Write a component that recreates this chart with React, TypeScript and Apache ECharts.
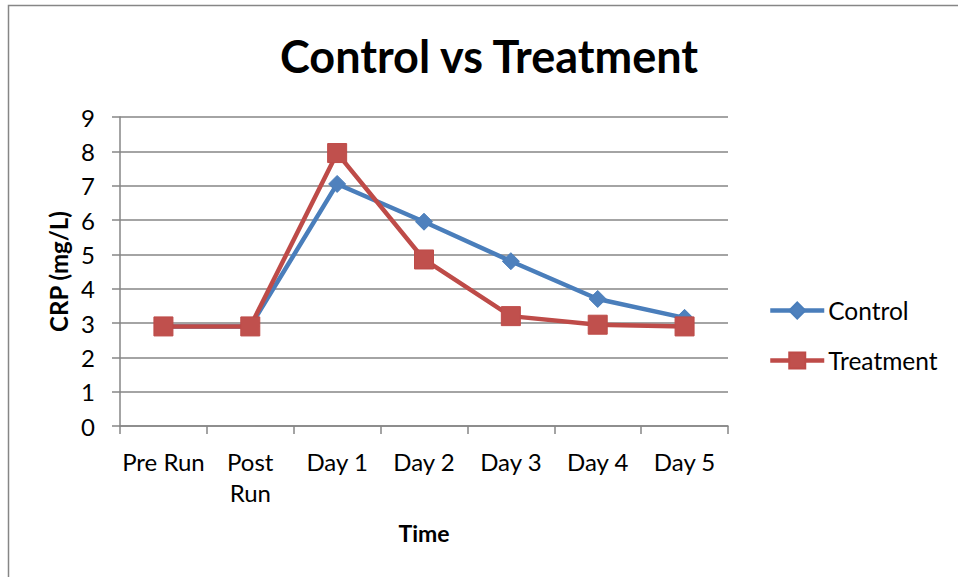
import React, { useEffect, useRef } from "react";
import * as echarts from "echarts";

const categories = ["Pre Run", "Post Run", "Day 1", "Day 2", "Day 3", "Day 4", "Day 5"];
const controlValues = [2.9, 2.9, 7.05, 5.95, 4.8, 3.7, 3.15];
const treatmentValues = [2.9, 2.9, 7.95, 4.85, 3.2, 2.95, 2.9];
const seriesNames = ["Control", "Treatment"];
const titleText = "Control vs Treatment";
const xTitle = "Time";
const yTitle = "CRP (mg/L)";

const FONT = "Lato, 'Open Sans', sans-serif";
const GRAY = "#868686";
const BLUE_LINE = "#4A7EBB";
const BLUE_FILL = "#4F81BD";
const RED_LINE = "#BE4B48";
const RED_FILL = "#C0504D";

export default function App() {
  const ref = useRef<HTMLDivElement>(null);
  useEffect(() => {
    if (!ref.current) return;
    const chart = echarts.init(ref.current, null, { renderer: "svg" });
    chart.setOption({
      animation: false,
      backgroundColor: "#ffffff",
      title: {
        text: titleText,
        left: 484,
        top: 26,
        textAlign: "center",
        textStyle: { fontFamily: FONT, fontSize: 45, fontWeight: "bold", color: "#000", lineHeight: 50 },
      },
      graphic: [
        {
          type: "rect",
          shape: { x: 8.5, y: 5.5, width: 1200, height: 1200 },
          style: { fill: "none", stroke: GRAY, lineWidth: 1.5 },
          silent: true,
        },
      ],
      legend: {
        orient: "vertical",
        left: 763,
        top: 293,
        itemWidth: 54,
        itemHeight: 20,
        itemGap: 25,
        data: [
          { name: seriesNames[0], lineStyle: { width: 4.5, color: BLUE_LINE } },
          { name: seriesNames[1], lineStyle: { width: 4.5, color: RED_LINE } },
        ],
        textStyle: { fontFamily: FONT, fontSize: 24.5, color: "#000", lineHeight: 23, padding: [0, 0, 0, -1] },
      },
      grid: { left: 120, top: 117, width: 608, height: 309, containLabel: false },
      xAxis: {
        type: "category",
        data: categories,
        boundaryGap: true,
        name: xTitle,
        nameLocation: "middle",
        nameGap: 107,
        nameTextStyle: { fontFamily: FONT, fontSize: 23, fontWeight: "bold", color: "#000", verticalAlign: "middle" },
        axisLine: { lineStyle: { color: GRAY, width: 1.5 } },
        axisTick: { show: true, length: 8, alignWithLabel: false, lineStyle: { color: GRAY, width: 1.5 } },
        axisLabel: {
          interval: 0,
          margin: 20,
          fontFamily: FONT,
          fontSize: 24,
          color: "#000",
          lineHeight: 31,
          formatter: (v: string) => (v === "Post Run" ? "Post\nRun" : v),
        },
        splitLine: { show: false },
      },
      yAxis: {
        type: "value",
        min: 0,
        max: 9,
        interval: 1,
        name: yTitle,
        nameLocation: "middle",
        nameRotate: 90,
        nameGap: 61,
        nameTextStyle: { fontFamily: FONT, fontSize: 24, fontWeight: "bold", color: "#000", verticalAlign: "middle" },
        axisLine: { show: true, lineStyle: { color: GRAY, width: 1.5 } },
        axisTick: { show: true, length: 8, lineStyle: { color: GRAY, width: 1.5 } },
        axisLabel: { margin: 25, fontFamily: FONT, fontSize: 24, color: "#000" },
        splitLine: { show: true, lineStyle: { color: GRAY, width: 1.5 } },
      },
      series: [
        {
          name: seriesNames[0],
          type: "line",
          data: controlValues,
          symbol: "diamond",
          symbolSize: 17,
          lineStyle: { color: BLUE_LINE, width: 4.5 },
          itemStyle: { color: BLUE_FILL, borderColor: BLUE_LINE, borderWidth: 1 },
          z: 2,
        },
        {
          name: seriesNames[1],
          type: "line",
          data: treatmentValues,
          symbol: "rect",
          symbolSize: 19,
          lineStyle: { color: RED_LINE, width: 4.5 },
          itemStyle: { color: RED_FILL, borderColor: RED_LINE, borderWidth: 1 },
          z: 3,
        },
      ],
    });
    return () => chart.dispose();
  }, []);
  return (
    <div
      ref={ref}
      style={{ position: "fixed", left: 0, top: 0, width: 958, height: 577, background: "#fff" }}
    />
  );
}
